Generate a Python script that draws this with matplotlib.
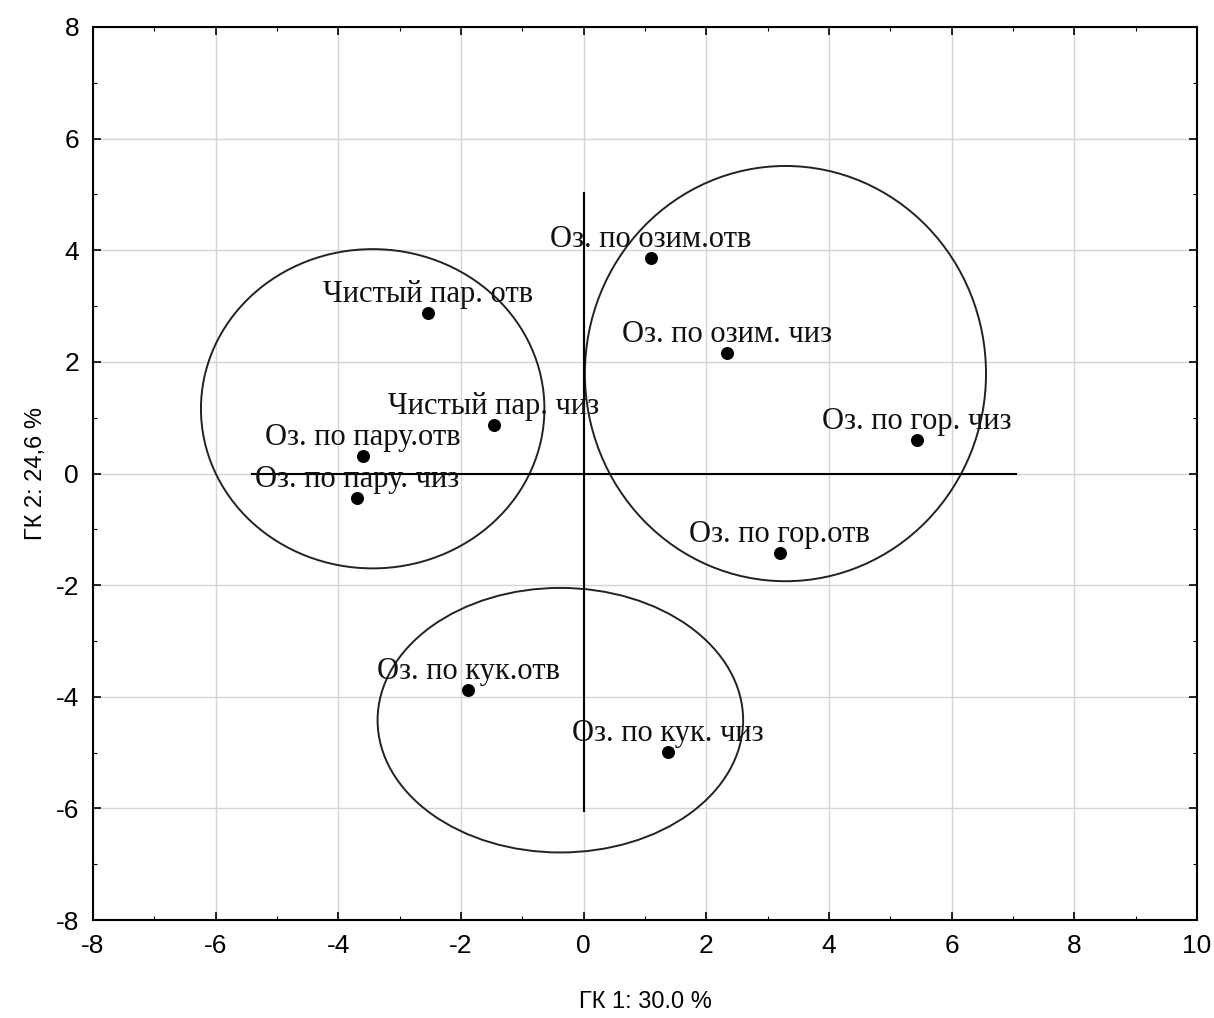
import matplotlib
matplotlib.use("Agg")
import matplotlib.pyplot as plt
from matplotlib.patches import Ellipse
from matplotlib.ticker import MultipleLocator

plt.rcParams["axes.unicode_minus"] = False

labels = ["Оз. по озим.отв", "Оз. по озим. чиз", "Оз. по гор. чиз", "Оз. по гор.отв",
          "Чистый пар. отв", "Чистый пар. чиз", "Оз. по пару.отв", "Оз. по пару. чиз",
          "Оз. по кук.отв", "Оз. по кук. чиз"]
gk1 = [1.09, 2.33, 5.43, 3.20, -2.54, -1.47, -3.60, -3.70, -1.88, 1.37]
gk2 = [3.86, 2.16, 0.60, -1.42, 2.88, 0.87, 0.31, -0.44, -3.88, -4.99]

# cluster ellipses: centre x, centre y, width, height
ell_cx = [-3.44, 3.29, -0.38]
ell_cy = [1.16, 1.79, -4.42]
ell_w = [5.60, 6.54, 5.96]
ell_h = [5.72, 7.44, 4.74]

tick_family = ["Liberation Sans", "DejaVu Sans"]

fig = plt.figure(figsize=(12.14, 10.18), dpi=100)
ax = fig.add_axes([93/1214, 1-920/1018, (1197-93)/1214, (920-27)/1018])
ax.set_xlim(-8, 10)
ax.set_ylim(-8, 8)
ax.xaxis.set_major_locator(MultipleLocator(2))
ax.yaxis.set_major_locator(MultipleLocator(2))
ax.xaxis.set_minor_locator(MultipleLocator(1))
ax.yaxis.set_minor_locator(MultipleLocator(1))
ax.grid(True, which="major", color="#d4d4d4", lw=1.0)
ax.set_axisbelow(True)
ax.tick_params(which="major", direction="in", length=6, width=1.2, labelsize=19, pad=10,
               top=True, right=True)
ax.tick_params(which="minor", direction="in", length=3, width=0.8, top=True, right=True)
for lab in ax.get_xticklabels() + ax.get_yticklabels():
    lab.set_family(tick_family)
for s in ax.spines.values():
    s.set_linewidth(1.5)

# cross lines
ax.plot([-5.4, 7.05], [0, 0], color="black", lw=1.5)
ax.plot([0, 0], [-6.05, 5.03], color="black", lw=1.5)

for cx, cy, w, h in zip(ell_cx, ell_cy, ell_w, ell_h):
    ax.add_patch(Ellipse((cx, cy), w, h, fill=False, edgecolor="#222222", lw=1.4))

ax.scatter(gk1, gk2, s=70, color="black", zorder=5)
for x, y, t in zip(gk1, gk2, labels):
    ax.annotate(t, (x, y), xytext=(0, 8), textcoords="offset points", ha="center", va="baseline",
                fontsize=22, family=["Liberation Serif", "DejaVu Serif"], color="#111111")

ax.set_xlabel("ГК 1: 30.0 %", fontsize=17, family=tick_family, labelpad=24)
ax.set_ylabel("ГК 2: 24,6 %", fontsize=17, family=tick_family, labelpad=6)

fig.savefig("out.png", dpi=100)
